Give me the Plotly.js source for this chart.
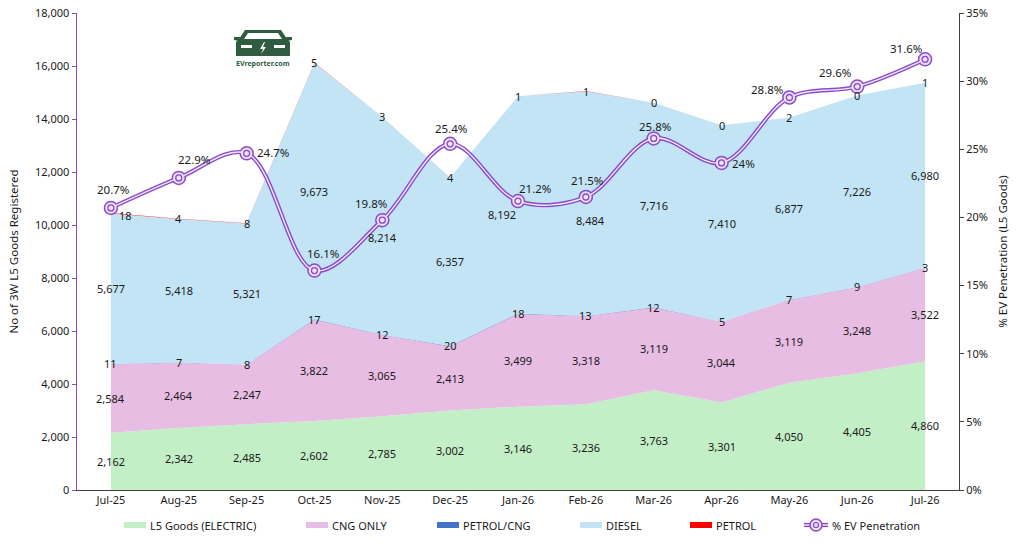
<!DOCTYPE html>
<html>
<head>
<meta charset="utf-8">
<script src="https://cdn.plot.ly/plotly-3.0.1.min.js"></script>
<style>
html,body{margin:0;padding:0;background:#fff;}
#chart{width:1024px;height:549px;}
</style>
</head>
<body>
<div id="chart"></div>
<script>
const months = ['Jul-25','Aug-25','Sep-25','Oct-25','Nov-25','Dec-25','Jan-26','Feb-26','Mar-26','Apr-26','May-26','Jun-26','Jul-26'];
const electric = [2162,2342,2485,2602,2785,3002,3146,3236,3763,3301,4050,4405,4860];
const cngOnly  = [2584,2464,2247,3822,3065,2413,3499,3318,3119,3044,3119,3248,3522];
const petrolCng = [11,7,8,17,12,20,18,13,12,5,7,9,3];
const diesel   = [5677,5418,5321,9673,8214,6357,8192,8484,7716,7410,6877,7226,6980];
const petrol   = [18,4,8,5,3,4,1,1,0,0,2,0,1];
const evPct    = [20.7,22.9,24.7,16.1,19.8,25.4,21.2,21.5,25.8,24,28.8,29.6,31.6];

const seriesNames = ['L5 Goods (ELECTRIC)','CNG ONLY','PETROL/CNG','DIESEL','PETROL'];
const seriesVals = [electric,cngOnly,petrolCng,diesel,petrol];
const seriesColors = ['#C3EFC6','#E8BDE3','#4472C4','#C2E4F5','#FF0000'];
const labelAtMid = [true,true,false,true,false];

// label nudges in pixels (style only): [dx, dy] with dy downward
const pctLabelShift = [[2,-18],[15,-18],[26,-1],[9,-17],[-11,-17],[1,-15],[17,-13],[1,-16],[1,-12],[22,1],[-22,-8],[-22,-14],[-19,-11]];
const noShift = months.map(()=>[0,0]);
const dieselShift = noShift.map(s=>s.slice()); dieselShift[4]=[0,12]; dieselShift[6]=[-16,10]; dieselShift[7]=[5,17];
const petrolShift = noShift.map(s=>s.slice()); petrolShift[0]=[15,2];
const labelShift = [noShift, noShift, noShift, dieselShift, petrolShift];

const fmt = v => v.toLocaleString('en-US');
const purple = '#8A4BC9';
const FONT = 'Noto Sans, sans-serif';

const traces = [];
const annotations = [];
const cum = months.map(()=>0);
seriesVals.forEach((vals,i)=>{
  traces.push({
    type:'scatter', mode:'lines', x:months, y:vals, name:seriesNames[i],
    stackgroup:'one', fillcolor:seriesColors[i],
    line:{width:0, color:seriesColors[i]}, hoverinfo:'skip', showlegend:false
  });
});
seriesVals.forEach((vals,i)=>{
  vals.forEach((v,j)=>{
    const base = cum[j];
    cum[j] += v;
    const y = labelAtMid[i] ? base + v/2 : cum[j];
    annotations.push({x:months[j], y:y, xref:'x', yref:'y', text:fmt(v), showarrow:false,
      xanchor:'center', yanchor:'middle', xshift:labelShift[i][j][0], yshift:-labelShift[i][j][1],
      font:{family:FONT, size:11, color:'#1a1a1a'}});
  });
});

traces.push({
  type:'scatter', mode:'lines+markers', x:months, y:evPct, yaxis:'y2',
  name:'% EV Penetration', showlegend:false,
  line:{shape:'spline', smoothing:1, width:4.2, color:purple},
  marker:{size:13, color:'#EBDDF8', line:{color:purple, width:1.5}}, hoverinfo:'skip'
});
traces.push({
  type:'scatter', mode:'lines+markers', x:months, y:evPct, yaxis:'y2', showlegend:false,
  line:{shape:'spline', smoothing:1, width:1.4, color:'#F1E8FB'},
  marker:{size:6, symbol:'circle-open', color:purple, line:{width:1.3}}, hoverinfo:'skip'
});
evPct.forEach((v,j)=>{
  annotations.push({x:months[j], y:v, xref:'x', yref:'y2', text:v+'%', showarrow:false,
    xanchor:'center', yanchor:'middle', xshift:pctLabelShift[j][0], yshift:-pctLabelShift[j][1],
    font:{family:FONT, size:11.5, color:'#1a1a1a'}});
});

const logoSvg = `<svg xmlns="http://www.w3.org/2000/svg" width="60" height="28" viewBox="0 0 60 28">
<path d="M1 8 L7 8 L6 12 L1 11 Z" fill="#2F5B3F"/>
<path d="M59 8 L53 8 L54 12 L59 11 Z" fill="#2F5B3F"/>
<path d="M12 1 L48 1 L54 10 L57 13 L57 27 L3 27 L3 13 L6 10 Z" fill="#2F5B3F"/>
<path d="M15 4 L45 4 L49 10 L11 10 Z" fill="#ffffff"/>
<rect x="8" y="16" width="11" height="3" fill="#ffffff"/>
<rect x="41" y="16" width="11" height="3" fill="#ffffff"/>
<path d="M31 13 L27 20 L30 20 L28 25 L33 18 L30 18 L32 13 Z" fill="#ffffff"/>
</svg>`;
const logoSrc = 'data:image/svg+xml;base64,' + btoa(logoSvg);

// pixel -> paper helpers for decorations (plot area 77..959 x 13..490)
const PL=77, PR=959, PT=13, PB=490;
const px = x => (x-PL)/(PR-PL);
const py = y => (PB-y)/(PB-PT);

// custom legend (Excel style)
const legendItems = [
  {name:'L5 Goods (ELECTRIC)', color:seriesColors[0], x:124},
  {name:'CNG ONLY', color:seriesColors[1], x:306},
  {name:'PETROL/CNG', color:seriesColors[2], x:437},
  {name:'DIESEL', color:seriesColors[3], x:580},
  {name:'PETROL', color:seriesColors[4], x:690}
];
const LY = 525;
const shapes = [];
legendItems.forEach(it=>{
  shapes.push({type:'rect', xref:'paper', yref:'paper', x0:px(it.x), x1:px(it.x+22), y0:py(LY+3), y1:py(LY-3),
    fillcolor:it.color, line:{width:0}});
  annotations.push({text:it.name, xref:'paper', yref:'paper', x:px(it.x+24), y:py(LY), xanchor:'left', yanchor:'middle',
    showarrow:false, font:{family:FONT, size:11, color:'#1a1a1a'}});
});
shapes.push({type:'line', xref:'paper', yref:'paper', x0:px(804), x1:px(828), y0:py(LY), y1:py(LY), line:{color:purple, width:4.2}});
shapes.push({type:'line', xref:'paper', yref:'paper', x0:px(804), x1:px(828), y0:py(LY), y1:py(LY), line:{color:'#F1E8FB', width:1.4}});
shapes.push({type:'circle', xref:'paper', yref:'paper', x0:px(810), x1:px(822), y0:py(LY+6), y1:py(LY-6), fillcolor:'#EBDDF8', line:{color:purple, width:1.5}});
shapes.push({type:'circle', xref:'paper', yref:'paper', x0:px(813.5), x1:px(818.5), y0:py(LY+2.5), y1:py(LY-2.5), fillcolor:'rgba(0,0,0,0)', line:{color:purple, width:1.2}});
annotations.push({text:'% EV Penetration', xref:'paper', yref:'paper', x:px(830), y:py(LY), xanchor:'left', yanchor:'middle',
  showarrow:false, font:{family:FONT, size:11, color:'#1a1a1a'}});

annotations.push({text:'<b>EVreporter.com</b>', xref:'paper', yref:'paper', x:px(263), y:py(63),
  xanchor:'center', yanchor:'middle', showarrow:false, font:{size:7, color:'#2F5B3F', family:FONT}});

const layout = {
  width:1024, height:549,
  margin:{l:PL, r:1024-PR, t:PT, b:549-PB},
  paper_bgcolor:'#ffffff', plot_bgcolor:'#ffffff',
  font:{family:FONT, size:11, color:'#1a1a1a'},
  showlegend:false,
  xaxis:{type:'category', range:[-0.5,12.5], showgrid:false, zeroline:false,
    showline:true, linecolor:'#404040', linewidth:1, ticks:'', tickfont:{size:11},
    fixedrange:true},
  yaxis:{range:[0,18000], dtick:2000, tickformat:',d', showgrid:false, zeroline:false,
    showline:true, linecolor:purple, linewidth:1.5, ticks:'outside', ticklen:4,
    tickcolor:purple, tickfont:{size:11},
    title:{text:'No of 3W L5 Goods Registered', font:{size:11.5}, standoff:14}},
  yaxis2:{overlaying:'y', side:'right', range:[0,35], dtick:5, ticksuffix:'%',
    showgrid:false, zeroline:false, showline:true, linecolor:'#404040', linewidth:1,
    ticks:'outside', ticklen:4, tickcolor:'#404040', tickfont:{size:11},
    title:{text:'% EV Penetration (L5 Goods)', font:{size:11.5}, standoff:12}},
  images:[{source:logoSrc, xref:'paper', yref:'paper', x:px(233), y:py(29),
    sizex:px(293)-px(233), sizey:py(29)-py(57), xanchor:'left', yanchor:'top', sizing:'stretch', layer:'above'}],
  shapes:shapes,
  annotations:annotations
};

Plotly.newPlot('chart', traces, layout, {displayModeBar:false, staticPlot:true});
</script>
</body>
</html>
